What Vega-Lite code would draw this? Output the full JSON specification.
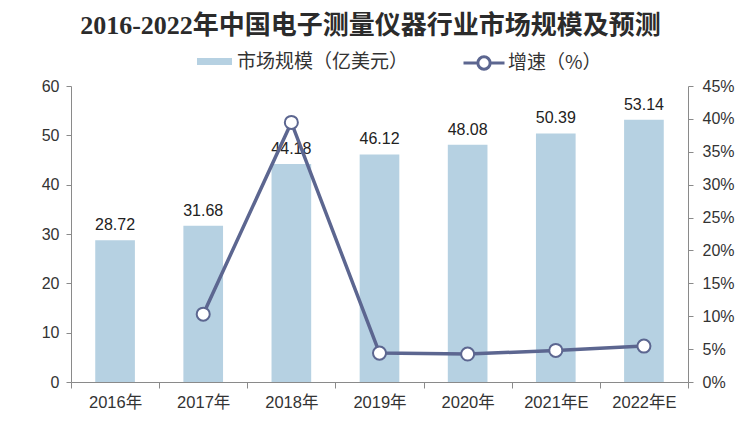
{
  "$schema": "https://vega.github.io/schema/vega-lite/v6.json",
  "width": 617,
  "height": 296,
  "autosize": {"type": "none"},
  "padding": {"left": 71, "top": 86, "right": 55, "bottom": 47},
  "background": "white",
  "title": {
    "text": "2016-2022年中国电子测量仪器行业市场规模及预测",
    "font": "Liberation Serif, Noto Sans CJK SC",
    "fontSize": 26,
    "fontWeight": "bold",
    "color": "#2b2b2b",
    "anchor": "middle",
    "dx": -9,
    "offset": -24,
    "baseline": "bottom"
  },
  "data": {
    "values": [
      {"year": "2016年", "size": 28.72, "growth": null},
      {"year": "2017年", "size": 31.68, "growth": 0.1031},
      {"year": "2018年", "size": 44.18, "growth": 0.3946},
      {"year": "2019年", "size": 46.12, "growth": 0.0439},
      {"year": "2020年", "size": 48.08, "growth": 0.0425},
      {"year": "2021年E", "size": 50.39, "growth": 0.048},
      {"year": "2022年E", "size": 53.14, "growth": 0.0546}
    ]
  },
  "encoding": {
    "x": {
      "field": "year",
      "type": "nominal",
      "sort": null,
      "scale": {"paddingInner": 0, "paddingOuter": 0},
      "axis": {
        "title": null,
        "labelAngle": 0,
        "labelFont": "Liberation Sans, Noto Sans CJK SC",
        "labelFontSize": 16.5,
        "labelColor": "#333333",
        "labelPadding": 6,
        "domainColor": "#8a8a8a",
        "tickColor": "#8a8a8a",
        "tickSize": 6,
        "tickBand": "extent"
      }
    }
  },
  "layer": [
    {
      "encoding": {
        "y": {
          "field": "size",
          "type": "quantitative",
          "scale": {"domain": [0, 60]},
          "axis": {
            "orient": "left",
            "title": null,
            "values": [0, 10, 20, 30, 40, 50, 60],
            "grid": false,
            "labelOverlap": false,
            "labelFont": "Liberation Sans",
            "labelFontSize": 16,
            "labelColor": "#333333",
            "labelPadding": 7,
            "domainColor": "#8a8a8a",
            "tickColor": "#8a8a8a",
            "tickSize": 5
          }
        }
      },
      "layer": [
        {
          "mark": {"type": "bar", "width": {"band": 0.45}},
          "encoding": {
            "color": {
              "datum": "市场规模（亿美元）",
              "type": "nominal",
              "scale": {"range": ["#b6d1e2"]},
              "legend": {
                "orient": "none",
                "legendX": 126,
                "legendY": -42,
                "direction": "horizontal",
                "title": null,
                "padding": 0,
                "symbolType": "M-1,-0.2H1V0.2H-1Z",
                "symbolSize": 1225,
                "symbolStrokeWidth": 0,
                "labelFont": "Noto Sans CJK SC",
                "labelFontSize": 19,
                "labelColor": "#333333",
                "labelOffset": 5,
                "labelLimit": 400
              }
            }
          }
        },
        {
          "mark": {
            "type": "text",
            "baseline": "bottom",
            "dy": -7,
            "font": "Liberation Sans",
            "fontSize": 16,
            "color": "#222222"
          },
          "encoding": {
            "text": {"field": "size", "type": "quantitative", "format": ".2f"}
          }
        }
      ]
    },
    {
      "transform": [{"filter": "datum.growth != null"}],
      "encoding": {
        "y": {
          "field": "growth",
          "type": "quantitative",
          "scale": {"domain": [0, 0.45]},
          "axis": {
            "orient": "right",
            "title": null,
            "values": [0, 0.05, 0.1, 0.15, 0.2, 0.25, 0.3, 0.35, 0.4, 0.45],
            "format": ".0%",
            "grid": false,
            "labelOverlap": false,
            "labelFont": "Liberation Sans",
            "labelFontSize": 16,
            "labelColor": "#333333",
            "labelPadding": 9,
            "domainColor": "#8a8a8a",
            "tickColor": "#8a8a8a",
            "tickSize": 5
          }
        }
      },
      "layer": [
        {
          "mark": {"type": "line", "strokeWidth": 3.5},
          "encoding": {
            "stroke": {
              "datum": "增速（%）",
              "type": "nominal",
              "scale": {"range": ["#5c6690"]},
              "legend": {
                "orient": "none",
                "legendX": 391,
                "legendY": -45,
                "direction": "horizontal",
                "title": null,
                "padding": 0,
                "symbolType": "M-1,0H-0.3A0.3,0.3,0,1,1,0.3,0A0.3,0.3,0,1,1,-0.3,0M0.3,0H1",
                "symbolSize": 1681,
                "symbolStrokeWidth": 3,
                "symbolFillColor": "white",
                "labelFont": "Noto Sans CJK SC",
                "labelFontSize": 19,
                "labelColor": "#333333",
                "labelOffset": 2,
                "labelLimit": 300,
                "encode": {"symbols": {"update": {"fill": {"value": "white"}, "fillOpacity": {"value": 1}}}}
              }
            }
          }
        },
        {
          "mark": {
            "type": "point",
            "shape": "circle",
            "filled": true,
            "fill": "white",
            "stroke": "#5c6690",
            "strokeWidth": 2,
            "size": 170,
            "opacity": 1
          }
        }
      ]
    }
  ],
  "resolve": {"scale": {"y": "independent", "color": "independent", "stroke": "independent"}},
  "config": {
    "view": {"stroke": null}
  }
}
